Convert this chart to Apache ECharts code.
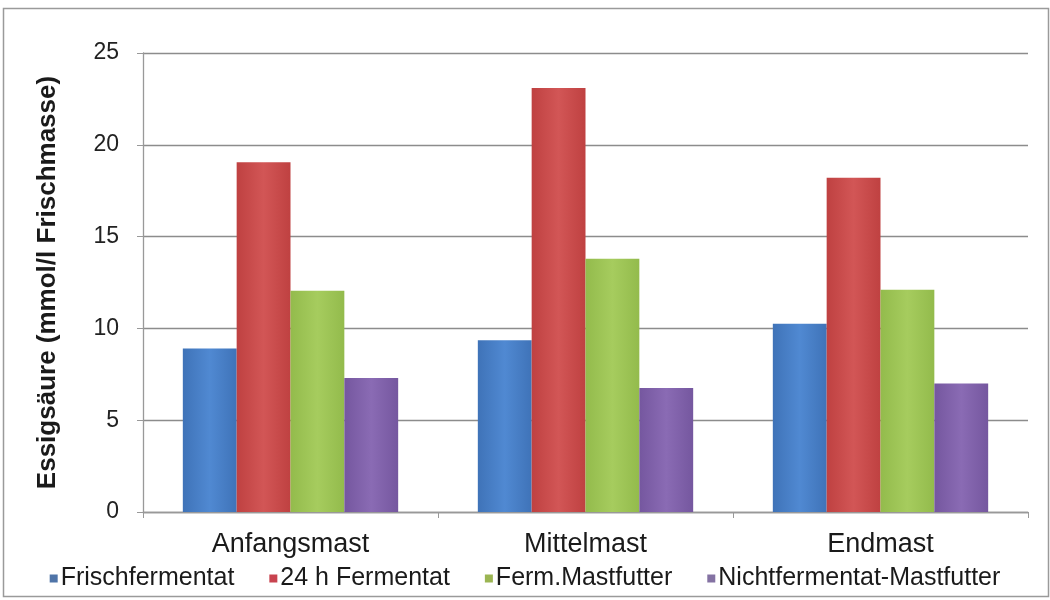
<!DOCTYPE html>
<html>
<head>
<meta charset="utf-8">
<script src="https://cdn.jsdelivr.net/npm/echarts@6/dist/echarts.min.js"></script>
<style>
  html, body { margin: 0; padding: 0; background: #fff; }
  #chart { width: 1050px; height: 600px; }
</style>
</head>
<body>
<div id="chart"></div>
<script>
// Essigsäure-Gehalt je Mastabschnitt und Futtervariante
const categories = ['Anfangsmast', 'Mittelmast', 'Endmast'];
const seriesNames = ['Frischfermentat', '24 h Fermentat', 'Ferm.Mastfutter', 'Nichtfermentat-Mastfutter'];
const frischfermentat = [8.9, 9.35, 10.25];
const fermentat24h = [19.05, 23.1, 18.2];
const fermMastfutter = [12.05, 13.8, 12.1];
const nichtfermentat = [7.3, 6.75, 7.0];
const yTicks = [0, 5, 10, 15, 20, 25];

const values = [frischfermentat, fermentat24h, fermMastfutter, nichtfermentat];
const colors = [
  ['#3f73b8', '#5089d2', '#3f73b8'],
  ['#bf4141', '#d25656', '#bf4141'],
  ['#93bb4c', '#a6cc5e', '#93bb4c'],
  ['#75579f', '#8a6bb4', '#75579f']
];
const legendColors = ['#4f74a8', '#c8434f', '#9bb552', '#8472a3'];

const chart = echarts.init(document.getElementById('chart'), null, { renderer: 'canvas' });

const fontFamily = '"Liberation Sans", Arial, sans-serif';

chart.setOption({
  animation: false,
  backgroundColor: '#ffffff',
  textStyle: { fontFamily: fontFamily },
  graphic: [{
    type: 'rect',
    shape: { x: 3.5, y: 8.5, width: 1045, height: 588 },
    style: { fill: 'none', stroke: '#9a9a9a', lineWidth: 1.5 },
    silent: true
  }],
  grid: { left: 143, right: 22, top: 53, bottom: 88, containLabel: false },
  legend: {
    data: seriesNames.map((n, i) => ({ name: n, itemStyle: { color: legendColors[i] } })),
    left: 'center',
    top: 566,
    icon: 'rect',
    itemWidth: 8,
    itemHeight: 8,
    itemGap: 35,
    padding: 0,
    textStyle: { fontSize: 25, color: '#1a1a1a', fontFamily: fontFamily, padding: [0, 0, 0, -2] }
  },
  xAxis: {
    type: 'category',
    data: categories,
    axisLine: { show: true, lineStyle: { color: '#999', width: 1.3 } },
    axisTick: { show: true, length: 6, alignWithLabel: false, lineStyle: { color: '#999' } },
    axisLabel: { fontSize: 27, color: '#1a1a1a', margin: 19, fontFamily: fontFamily },
    splitLine: { show: false }
  },
  yAxis: {
    type: 'value',
    min: yTicks[0],
    max: yTicks[yTicks.length - 1],
    interval: yTicks[1] - yTicks[0],
    name: 'Essigsäure (mmol/l Frischmasse)',
    nameLocation: 'middle',
    nameGap: 82,
    nameRotate: 90,
    nameTextStyle: { fontSize: 26, fontWeight: 'bold', color: '#1a1a1a', fontFamily: fontFamily },
    axisLine: { show: true, lineStyle: { color: '#999', width: 1.3 } },
    axisTick: { show: true, length: 6, lineStyle: { color: '#999' } },
    axisLabel: { fontSize: 23, color: '#222', margin: 24, fontFamily: fontFamily },
    splitLine: { show: true, lineStyle: { color: '#8c8c8c', width: 1.3 } }
  },
  series: seriesNames.map((name, i) => ({
    name: name,
    type: 'bar',
    data: values[i],
    barGap: '0%',
    barCategoryGap: '27%',
    itemStyle: {
      color: new echarts.graphic.LinearGradient(0, 0, 1, 0, [
        { offset: 0, color: colors[i][0] },
        { offset: 0.5, color: colors[i][1] },
        { offset: 1, color: colors[i][2] }
      ])
    }
  }))
});
</script>
</body>
</html>
